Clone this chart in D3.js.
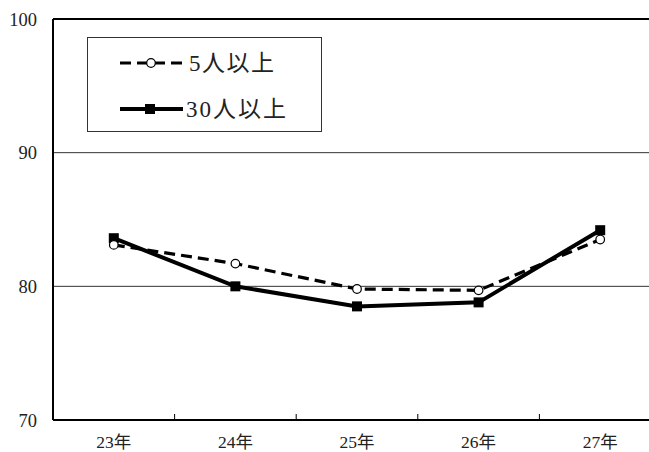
<!DOCTYPE html>
<html>
<head>
<meta charset="utf-8">
<script src="https://cdn.jsdelivr.net/npm/d3@7"></script>
<style>
  html, body { margin: 0; padding: 0; background: #fff; }
  svg { display: block; }
  text { font-family: "Liberation Serif", "DejaVu Serif", "Noto Sans CJK JP", serif; fill: #000; }
</style>
</head>
<body>
<svg id="chart" width="649" height="452"></svg>
<script>
// Categories (fiscal years) and the two series
const years = ["23年", "24年", "25年", "26年", "27年"];
const over5 = [83.1, 81.7, 79.8, 79.7, 83.5];
const over30 = [83.6, 80.0, 78.5, 78.8, 84.2];
const yTicks = [70, 80, 90, 100];
const seriesNames = ["5人以上", "30人以上"];

const svg = d3.select("#chart");
const plotLeft = 53, plotTop = 19, plotBottom = 420, bandW = 121.6;
const plotRight = plotLeft + bandW * years.length;

const x = d3.scaleBand().domain(years).range([plotLeft, plotRight]).padding(0);
const y = d3.scaleLinear().domain([70, 100]).range([plotBottom, plotTop]);

// gridlines at 80 and 90
svg.append("g").selectAll("line")
  .data(yTicks.filter(d => d !== 70 && d !== 100))
  .join("line")
  .attr("x1", plotLeft).attr("x2", 649)
  .attr("y1", d => y(d)).attr("y2", d => y(d))
  .attr("stroke", "#333").attr("stroke-width", 1);

// top border
svg.append("line")
  .attr("x1", plotLeft).attr("x2", 649)
  .attr("y1", y(100)).attr("y2", y(100))
  .attr("stroke", "#000").attr("stroke-width", 2);

// y tick labels
svg.append("g").selectAll("text")
  .data(yTicks)
  .join("text")
  .attr("x", 37).attr("y", d => y(d) + 6.5)
  .attr("text-anchor", "end")
  .style("font-size", "18.5px")
  .style("fill", "#222")
  .text(d => d);

// x axis labels, with inward ticks at band boundaries
const xAxis = d3.axisBottom(x).tickSize(0).tickPadding(0);
const gx = svg.append("g").attr("transform", `translate(0,${plotBottom})`).call(xAxis);
gx.select(".domain").remove();
gx.selectAll("text")
  .attr("dy", null).attr("y", 28)
  .style("font-size", "17.5px")
  .style("fill", "#222");

svg.append("g").selectAll("line")
  .data(years.slice(1))
  .join("line")
  .attr("x1", d => x(d)).attr("x2", d => x(d))
  .attr("y1", plotBottom).attr("y2", plotBottom - 6)
  .attr("stroke", "#000").attr("stroke-width", 1);

// axis lines
svg.append("line")
  .attr("x1", plotLeft).attr("x2", 649).attr("y1", plotBottom).attr("y2", plotBottom)
  .attr("stroke", "#000").attr("stroke-width", 2);
svg.append("line")
  .attr("x1", plotLeft).attr("x2", plotLeft).attr("y1", plotTop).attr("y2", plotBottom)
  .attr("stroke", "#000").attr("stroke-width", 2);

const cx = d => x(d) + x.bandwidth() / 2;
const line = d3.line().x((d, i) => cx(years[i])).y(d => y(d));

// 5人以上: dashed with hollow circles
svg.append("path").datum(over5)
  .attr("d", line).attr("fill", "none")
  .attr("stroke", "#000").attr("stroke-width", 3.2)
  .attr("stroke-dasharray", "11,6");

// 30人以上: solid with filled squares
svg.append("path").datum(over30)
  .attr("d", line).attr("fill", "none")
  .attr("stroke", "#000").attr("stroke-width", 4);

svg.append("g").selectAll("rect")
  .data(over30).join("rect")
  .attr("x", (d, i) => cx(years[i]) - 5).attr("y", d => y(d) - 5)
  .attr("width", 10).attr("height", 10).attr("fill", "#000");

svg.append("g").selectAll("circle")
  .data(over5).join("circle")
  .attr("cx", (d, i) => cx(years[i])).attr("cy", d => y(d))
  .attr("r", 4.3).attr("fill", "#fff").attr("stroke", "#000").attr("stroke-width", 1.2);

// legend
const lg = svg.append("g");
lg.append("rect").attr("x", 87.5).attr("y", 37.5).attr("width", 234).attr("height", 94)
  .attr("fill", "#fff").attr("stroke", "#333").attr("stroke-width", 1);

lg.append("line").attr("x1", 120).attr("x2", 183).attr("y1", 63).attr("y2", 63)
  .attr("stroke", "#000").attr("stroke-width", 3.2).attr("stroke-dasharray", "11,6");
lg.append("circle").attr("cx", 151).attr("cy", 63).attr("r", 4.3)
  .attr("fill", "#fff").attr("stroke", "#000").attr("stroke-width", 1.2);
lg.append("text").attr("x", 189).attr("y", 71)
  .style("font-size", "23px").style("fill", "#222").style("letter-spacing", "1.5px")
  .text(seriesNames[0]);

lg.append("line").attr("x1", 120).attr("x2", 183).attr("y1", 109).attr("y2", 109)
  .attr("stroke", "#000").attr("stroke-width", 4);
lg.append("rect").attr("x", 145).attr("y", 104).attr("width", 10).attr("height", 10).attr("fill", "#000");
lg.append("text").attr("x", 186).attr("y", 117)
  .style("font-size", "23px").style("fill", "#222").style("letter-spacing", "2px")
  .text(seriesNames[1]);
</script>
</body>
</html>
